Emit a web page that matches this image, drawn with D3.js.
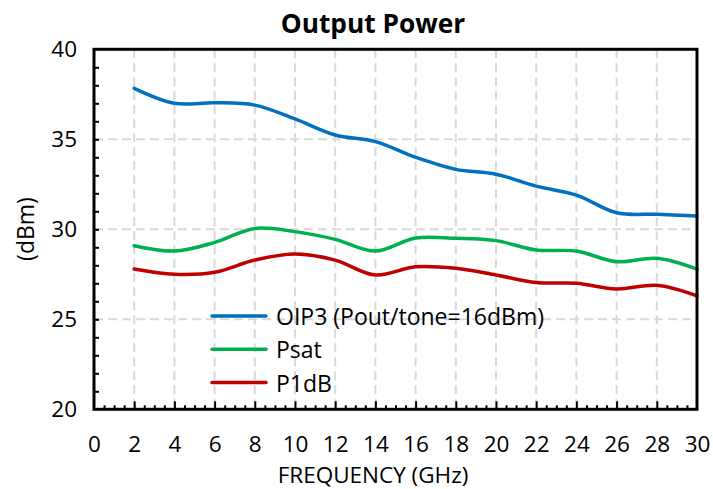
<!DOCTYPE html>
<html>
<head>
<meta charset="utf-8">
<script src="https://cdn.jsdelivr.net/npm/d3@7/dist/d3.min.js"></script>
<style>
  html, body { margin: 0; padding: 0; background: #fff; }
  svg { display: block; }
  text { font-family: "Open Sans", "Liberation Sans", sans-serif; fill: #000; }
</style>
</head>
<body>
<svg id="chart" width="713" height="489"></svg>
<script>
// ---- data ----
const frequency = [2, 4, 6, 8, 10, 12, 14, 16, 18, 20, 22, 24, 26, 28, 30];
const oip3 = [37.83, 37.0, 37.03, 36.9, 36.13, 35.24, 34.87, 34.0, 33.33, 33.06, 32.4, 31.9, 30.92, 30.83, 30.74];
const psat = [29.09, 28.79, 29.27, 30.05, 29.87, 29.44, 28.79, 29.52, 29.5, 29.37, 28.85, 28.79, 28.2, 28.39, 27.79];
const p1db = [27.79, 27.5, 27.61, 28.29, 28.63, 28.29, 27.46, 27.92, 27.83, 27.46, 27.04, 27.0, 26.68, 26.89, 26.3];
const seriesNames = ["OIP3 (Pout/tone=16dBm)", "Psat", "P1dB"];
const xTickValues = [0, 2, 4, 6, 8, 10, 12, 14, 16, 18, 20, 22, 24, 26, 28, 30];
const yTickValues = [20, 25, 30, 35, 40];
const titleText = "Output Power";
const xTitle = "FREQUENCY (GHz)";
const yTitle = "(dBm)";

const series = [
  { name: seriesNames[0], values: oip3, color: "#0070C0" },
  { name: seriesNames[1], values: psat, color: "#00B050" },
  { name: seriesNames[2], values: p1db, color: "#C00000" }
];

const svg = d3.select("#chart");
const pL = 94, pR = 697, pT = 49.3, pB = 409.3;

const x = d3.scaleLinear().domain([0, 30]).range([pL, pR]);
const y = d3.scaleLinear().domain([20, 40]).range([pB, pT]);

// grid
const grid = svg.append("g");
grid.selectAll("line.vg").data(xTickValues.filter(v => v > 0 && v < 30)).enter()
  .append("line")
  .attr("x1", d => x(d)).attr("x2", d => x(d))
  .attr("y1", pT).attr("y2", pB)
  .attr("stroke", "#d9d9d9").attr("stroke-width", 2).attr("stroke-dasharray", "9,5");
grid.selectAll("line.hg").data(yTickValues.filter(v => v > 20 && v < 40)).enter()
  .append("line")
  .attr("x1", pL).attr("x2", pR)
  .attr("y1", d => y(d)).attr("y2", d => y(d))
  .attr("stroke", "#d9d9d9").attr("stroke-width", 2).attr("stroke-dasharray", "9,5");

// series lines
const line = d3.line()
  .x((d, i) => x(frequency[i]))
  .y(d => y(d))
  .curve(d3.curveCatmullRom.alpha(0.5));

series.forEach(s => {
  svg.append("path")
    .datum(s.values)
    .attr("d", line)
    .attr("fill", "none")
    .attr("stroke", s.color)
    .attr("stroke-width", 3.5)
    .attr("stroke-linecap", "round");
});

// minor ticks via d3 axes (inside)
const yMinor = d3.axisRight(y).tickValues(d3.range(21, 40, 1)).tickSize(5).tickFormat("");
const gy = svg.append("g").attr("transform", `translate(${pL},0)`).call(yMinor);
const xMinor = d3.axisTop(x).tickValues(d3.range(0.5, 30, 0.5).filter(v => v % 2 !== 0)).tickSize(4).tickFormat("");
const gx = svg.append("g").attr("transform", `translate(0,${pB})`).call(xMinor);
const xMajor = d3.axisTop(x).tickValues(xTickValues.filter(v => v > 0 && v < 30)).tickSize(8).tickFormat("");
const gx2 = svg.append("g").attr("transform", `translate(0,${pB})`).call(xMajor);
[gy, gx, gx2].forEach(g => {
  g.select(".domain").remove();
  g.selectAll(".tick line").attr("stroke", "#000").attr("stroke-width", 2);
});

// frame
svg.append("rect")
  .attr("x", pL).attr("y", pT)
  .attr("width", pR - pL).attr("height", pB - pT)
  .attr("fill", "none").attr("stroke", "#000").attr("stroke-width", 3);

// tick labels
const yl = d3.axisLeft(y).tickValues(yTickValues).tickSize(0).tickPadding(17);
const gyl = svg.append("g").attr("transform", `translate(${pL},0)`).call(yl);
gyl.select(".domain").remove();
gyl.selectAll("text").attr("font-size", 22.5).attr("font-family", "'Open Sans', sans-serif").attr("fill", "#000");

const xl = d3.axisBottom(x).tickValues(xTickValues).tickSize(0).tickPadding(27);
const gxl = svg.append("g").attr("transform", `translate(0,${pB})`).call(xl);
gxl.select(".domain").remove();
gxl.selectAll("text").attr("font-size", 22.5).attr("font-family", "'Open Sans', sans-serif").attr("fill", "#000");

// titles
svg.append("text").attr("x", 373).attr("y", 33).attr("text-anchor", "middle")
  .attr("font-size", 26.3).attr("font-weight", "bold").text(titleText);
svg.append("text").attr("x", 373).attr("y", 483).attr("text-anchor", "middle")
  .attr("font-size", 22.5).text(xTitle);
svg.append("text").attr("transform", "translate(34,229) rotate(-90)").attr("text-anchor", "middle")
  .attr("font-size", 23).text(yTitle);

// legend
const legend = svg.append("g");
series.forEach((s, i) => {
  const ly = 316 + i * 33.3;
  legend.append("line").attr("x1", 212).attr("x2", 266).attr("y1", ly).attr("y2", ly)
    .attr("stroke", s.color).attr("stroke-width", 3.5).attr("stroke-linecap", "round");
  legend.append("text").attr("x", 276).attr("y", ly).attr("dominant-baseline", "central")
    .attr("font-size", 23).text(s.name);
});
</script>
</body>
</html>
